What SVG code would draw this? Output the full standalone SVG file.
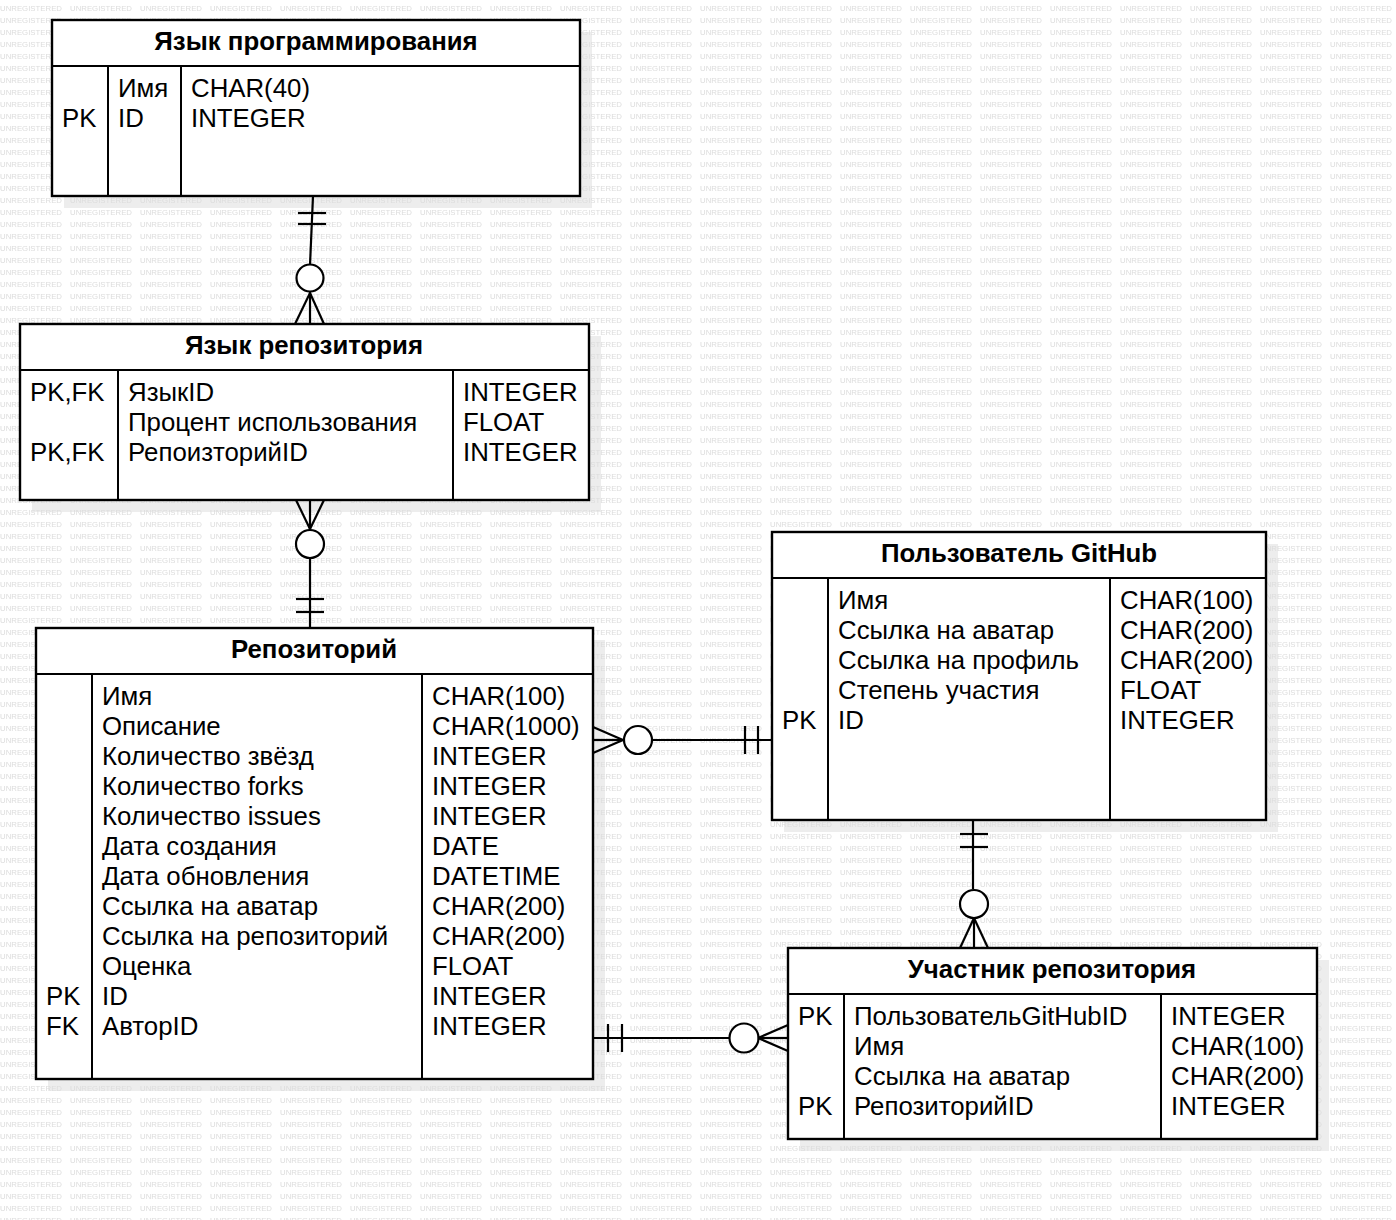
<svg xmlns="http://www.w3.org/2000/svg" width="1396" height="1220" viewBox="0 0 1396 1220">
<style>
text{font-family:"Liberation Sans",Arial,"DejaVu Sans",sans-serif;fill:#000}
.t{font-size:25.8px}
.h{font-size:25.8px;font-weight:bold;text-anchor:middle}
.wm{font-size:7.6px;fill:#dcdcdc}
.box{fill:#fff;stroke:#000;stroke-width:2.4}
.ln{stroke:#000;stroke-width:2;fill:none}
.sh{fill:#ededed}
.c{stroke:#000;stroke-width:2.2;fill:none}
.ci{stroke:#000;stroke-width:2.2;fill:#fff}
</style>
<defs>
<pattern id="wmp" patternUnits="userSpaceOnUse" x="0" y="0" width="70" height="12">
<text class="wm" x="0" y="10.5" textLength="62" lengthAdjust="spacingAndGlyphs">UNREGISTERED</text>
</pattern>
</defs>
<rect width="1396" height="1220" fill="#fff"/>
<g id="shadows">
<rect class="sh" x="64" y="32" width="528" height="176"/>
<rect class="sh" x="32" y="336" width="569" height="176"/>
<rect class="sh" x="48" y="640" width="557" height="451"/>
<rect class="sh" x="784" y="544" width="494" height="288"/>
<rect class="sh" x="800" y="960" width="529" height="191"/>
</g>
<rect width="1396" height="1220" fill="url(#wmp)"/>
<g id="connectors">
<!-- Язык программирования -> Язык репозитория -->
<line class="c" x1="313" y1="196" x2="310" y2="265"/>
<line class="c" x1="298" y1="213" x2="326" y2="213"/>
<line class="c" x1="298" y1="224" x2="326" y2="224"/>
<circle class="ci" cx="310" cy="278" r="13.5"/>
<line class="c" x1="310" y1="292" x2="310" y2="324"/>
<line class="c" x1="310" y1="293" x2="295" y2="324"/>
<line class="c" x1="310" y1="293" x2="324" y2="324"/>
<!-- Язык репозитория -> Репозиторий -->
<line class="c" x1="310" y1="500" x2="310" y2="530"/>
<line class="c" x1="296" y1="500" x2="310" y2="529"/>
<line class="c" x1="324" y1="500" x2="310" y2="529"/>
<circle class="ci" cx="310" cy="544" r="14"/>
<line class="c" x1="310" y1="558" x2="310" y2="628"/>
<line class="c" x1="296" y1="599" x2="324" y2="599"/>
<line class="c" x1="296" y1="612" x2="324" y2="612"/>
<!-- Репозиторий -> Пользователь GitHub -->
<line class="c" x1="593" y1="740" x2="624" y2="740"/>
<line class="c" x1="593" y1="727" x2="623" y2="740"/>
<line class="c" x1="593" y1="753" x2="623" y2="740"/>
<circle class="ci" cx="638" cy="740" r="14"/>
<line class="c" x1="652" y1="740" x2="772" y2="740"/>
<line class="c" x1="745" y1="726" x2="745" y2="754"/>
<line class="c" x1="758" y1="726" x2="758" y2="754"/>
<!-- Пользователь GitHub -> Участник репозитория -->
<line class="c" x1="973" y1="820" x2="973" y2="889"/>
<line class="c" x1="960" y1="834" x2="988" y2="834"/>
<line class="c" x1="960" y1="847" x2="988" y2="847"/>
<circle class="ci" cx="974" cy="904" r="14"/>
<line class="c" x1="974" y1="918" x2="974" y2="948"/>
<line class="c" x1="974" y1="918" x2="960" y2="948"/>
<line class="c" x1="974" y1="918" x2="988" y2="948"/>
<!-- Репозиторий -> Участник репозитория -->
<line class="c" x1="593" y1="1038" x2="729" y2="1038"/>
<line class="c" x1="608" y1="1024" x2="608" y2="1052"/>
<line class="c" x1="622" y1="1024" x2="622" y2="1052"/>
<circle class="ci" cx="744" cy="1038" r="14.5"/>
<line class="c" x1="758" y1="1038" x2="788" y2="1038"/>
<line class="c" x1="758" y1="1038" x2="788" y2="1025"/>
<line class="c" x1="758" y1="1038" x2="788" y2="1051"/>
</g>
<g id="programming-language">
<rect class="box" x="52" y="20" width="528" height="176"/>
<line class="ln" x1="52" y1="66" x2="580" y2="66"/>
<line class="ln" x1="108" y1="66" x2="108" y2="196"/>
<line class="ln" x1="181" y1="66" x2="181" y2="196"/>
<text class="h" x="316" y="50">Язык программирования</text>
<text class="t" x="62" y="127">PK</text>
<text class="t" x="118" y="97">Имя</text>
<text class="t" x="118" y="127">ID</text>
<text class="t" x="191" y="97">CHAR(40)</text>
<text class="t" x="191" y="127">INTEGER</text>
</g>
<g id="repo-language">
<rect class="box" x="20" y="324" width="569" height="176"/>
<line class="ln" x1="20" y1="370" x2="589" y2="370"/>
<line class="ln" x1="118" y1="370" x2="118" y2="500"/>
<line class="ln" x1="453" y1="370" x2="453" y2="500"/>
<text class="h" x="304" y="354">Язык репозитория</text>
<text class="t" x="30" y="401">PK,FK</text>
<text class="t" x="30" y="461">PK,FK</text>
<text class="t" x="128" y="401">ЯзыкID</text>
<text class="t" x="128" y="431">Процент использования</text>
<text class="t" x="128" y="461">РепоизторийID</text>
<text class="t" x="463" y="401">INTEGER</text>
<text class="t" x="463" y="431">FLOAT</text>
<text class="t" x="463" y="461">INTEGER</text>
</g>
<g id="repository">
<rect class="box" x="36" y="628" width="557" height="451"/>
<line class="ln" x1="36" y1="674" x2="593" y2="674"/>
<line class="ln" x1="92" y1="674" x2="92" y2="1079"/>
<line class="ln" x1="422" y1="674" x2="422" y2="1079"/>
<text class="h" x="314" y="658">Репозиторий</text>
<text class="t" x="46" y="1005">PK</text>
<text class="t" x="46" y="1035">FK</text>
<text class="t" x="102" y="705">Имя</text>
<text class="t" x="102" y="735">Описание</text>
<text class="t" x="102" y="765">Количество звёзд</text>
<text class="t" x="102" y="795">Количество forks</text>
<text class="t" x="102" y="825">Количество issues</text>
<text class="t" x="102" y="855">Дата создания</text>
<text class="t" x="102" y="885">Дата обновления</text>
<text class="t" x="102" y="915">Ссылка на аватар</text>
<text class="t" x="102" y="945">Ссылка на репозиторий</text>
<text class="t" x="102" y="975">Оценка</text>
<text class="t" x="102" y="1005">ID</text>
<text class="t" x="102" y="1035">АвторID</text>
<text class="t" x="432" y="705">CHAR(100)</text>
<text class="t" x="432" y="735">CHAR(1000)</text>
<text class="t" x="432" y="765">INTEGER</text>
<text class="t" x="432" y="795">INTEGER</text>
<text class="t" x="432" y="825">INTEGER</text>
<text class="t" x="432" y="855">DATE</text>
<text class="t" x="432" y="885">DATETIME</text>
<text class="t" x="432" y="915">CHAR(200)</text>
<text class="t" x="432" y="945">CHAR(200)</text>
<text class="t" x="432" y="975">FLOAT</text>
<text class="t" x="432" y="1005">INTEGER</text>
<text class="t" x="432" y="1035">INTEGER</text>
</g>
<g id="github-user">
<rect class="box" x="772" y="532" width="494" height="288"/>
<line class="ln" x1="772" y1="578" x2="1266" y2="578"/>
<line class="ln" x1="828" y1="578" x2="828" y2="820"/>
<line class="ln" x1="1110" y1="578" x2="1110" y2="820"/>
<text class="h" x="1019" y="562">Пользователь GitHub</text>
<text class="t" x="782" y="729">PK</text>
<text class="t" x="838" y="609">Имя</text>
<text class="t" x="838" y="639">Ссылка на аватар</text>
<text class="t" x="838" y="669">Ссылка на профиль</text>
<text class="t" x="838" y="699">Степень участия</text>
<text class="t" x="838" y="729">ID</text>
<text class="t" x="1120" y="609">CHAR(100)</text>
<text class="t" x="1120" y="639">CHAR(200)</text>
<text class="t" x="1120" y="669">CHAR(200)</text>
<text class="t" x="1120" y="699">FLOAT</text>
<text class="t" x="1120" y="729">INTEGER</text>
</g>
<g id="repo-contributor">
<rect class="box" x="788" y="948" width="529" height="191"/>
<line class="ln" x1="788" y1="994" x2="1317" y2="994"/>
<line class="ln" x1="844" y1="994" x2="844" y2="1139"/>
<line class="ln" x1="1161" y1="994" x2="1161" y2="1139"/>
<text class="h" x="1052" y="978">Участник репозитория</text>
<text class="t" x="798" y="1025">PK</text>
<text class="t" x="798" y="1115">PK</text>
<text class="t" x="854" y="1025">ПользовательGitHubID</text>
<text class="t" x="854" y="1055">Имя</text>
<text class="t" x="854" y="1085">Ссылка на аватар</text>
<text class="t" x="854" y="1115">РепозиторийID</text>
<text class="t" x="1171" y="1025">INTEGER</text>
<text class="t" x="1171" y="1055">CHAR(100)</text>
<text class="t" x="1171" y="1085">CHAR(200)</text>
<text class="t" x="1171" y="1115">INTEGER</text>
</g>
</svg>
